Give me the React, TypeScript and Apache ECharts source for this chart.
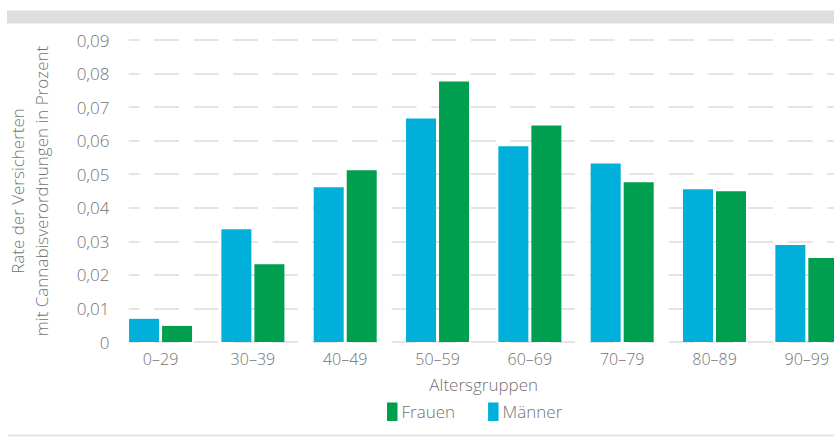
import React, { useEffect, useRef } from "react";
import * as echarts from "echarts";

const categories = ["0–29", "30–39", "40–49", "50–59", "60–69", "70–79", "80–89", "90–99"];
const maenner = [0.0069, 0.0336, 0.0461, 0.0666, 0.0583, 0.0532, 0.0455, 0.0289];
const frauen = [0.0048, 0.0232, 0.0512, 0.0776, 0.0645, 0.0476, 0.0449, 0.025];
const yTicks = { min: 0, max: 0.09, interval: 0.01 };

const FONT = "'Open Sans', sans-serif";
const TEXT = "#727272";
const BLUE = "#00b0db";
const GREEN = "#009e4f";

export default function App() {
  const ref = useRef<HTMLDivElement>(null);
  useEffect(() => {
    document.body.style.margin = "0";
    const chart = echarts.init(ref.current!, null, { renderer: "svg" });
    chart.setOption({
      animation: false,
      backgroundColor: "#ffffff",
      textStyle: { fontFamily: FONT },
      grid: { left: 114.4, right: -19, top: 40, bottom: 95, containLabel: false, outerBoundsMode: "none" },
      graphic: [
        { type: "rect", left: 7, top: 10.5, shape: { width: 827, height: 13 }, style: { fill: "#dedede" } },
        { type: "rect", left: 8, top: 434.5, shape: { width: 826, height: 2 }, style: { fill: "#e3e3e3" } },
        { type: "rect", z: 1, shape: { x: 113.5, y: 30, width: 15.3, height: 320 }, style: { fill: "#ffffff" } },
      ],
      legend: {
        data: ["Frauen", "Männer"],
        left: 387,
        top: 402.5,
        padding: 0,
        itemWidth: 10.5,
        itemHeight: 18.5,
        itemGap: 33,
        icon: "rect",
        textStyle: { fontFamily: FONT, fontSize: 17, color: TEXT, fontWeight: 300, padding: [3, 0, 0, -1] },
      },
      xAxis: {
        type: "category",
        data: categories,
        axisLine: { show: false },
        axisTick: { show: false },
        axisLabel: { color: TEXT, fontSize: 16, fontFamily: FONT, fontWeight: 300, margin: 9 },
        name: "Altersgruppen",
        nameLocation: "middle",
        nameGap: 34,
        nameTextStyle: { color: TEXT, fontSize: 17, fontFamily: FONT, fontWeight: 300 },
      },
      yAxis: {
        type: "value",
        min: yTicks.min,
        max: yTicks.max,
        interval: yTicks.interval,
        axisLine: { show: false },
        axisTick: { show: false },
        splitLine: { lineStyle: { color: "#e4e4e4", width: 2, type: [25, 14.6] } },
        axisLabel: {
          color: TEXT,
          fontSize: 17,
          fontFamily: FONT,
          fontWeight: 300,
          margin: 5,
          formatter: (v: number) => (v === 0 ? "0" : v.toFixed(2).replace(".", ",")),
        },
        name: "Rate der Versicherten\nmit Cannabisverordnungen in Prozent",
        nameLocation: "middle",
        nameRotate: 90,
        nameGap: 61,
        nameTextStyle: { color: TEXT, fontSize: 17, fontFamily: FONT, fontWeight: 300, lineHeight: 24 },
      },
      series: [
        { name: "Männer", type: "bar", data: maenner, barWidth: 30, barGap: "10%", itemStyle: { color: BLUE }, z: 2 },
        { name: "Frauen", type: "bar", data: frauen, barWidth: 30, barGap: "10%", itemStyle: { color: GREEN }, z: 2 },
      ],
    });
    return () => chart.dispose();
  }, []);
  return <div ref={ref} style={{ width: 834, height: 437 }} />;
}
